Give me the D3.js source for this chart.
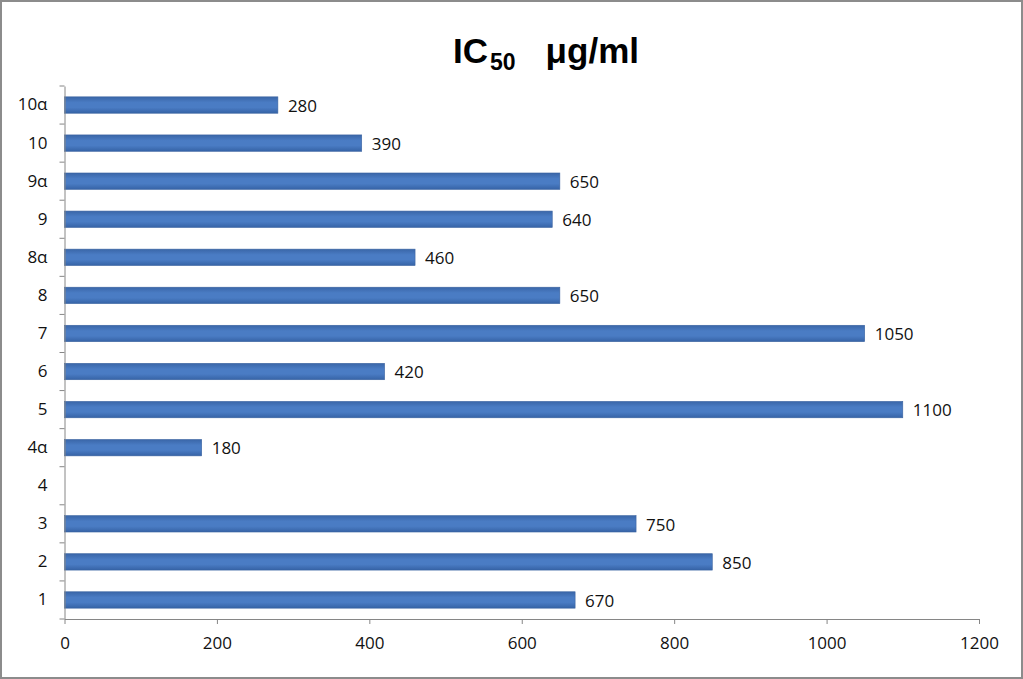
<!DOCTYPE html>
<html><head><meta charset="utf-8">
<script src="https://cdn.jsdelivr.net/npm/d3@7"></script>
<style>body{margin:0;background:#fff}svg{display:block}</style>
</head><body>
<svg id="c" width="1023" height="679"></svg>
<script>
const categories = ["1","2","3","4","4α","5","6","7","8","8α","9","9α","10","10α"];
const values = [670,850,750,null,180,1100,420,1050,650,460,640,650,390,280];
const xTicks = [0,200,400,600,800,1000,1200];

const svg = d3.select("#c");
svg.append("rect").attr("x",1).attr("y",1).attr("width",1021).attr("height",677)
  .attr("fill","#fff").attr("stroke","#8c8c8c").attr("stroke-width",2);

const defs = svg.append("defs");
const g = defs.append("linearGradient").attr("id","bg").attr("x1",0).attr("y1",0).attr("x2",0).attr("y2",1);
g.append("stop").attr("offset","0%").attr("stop-color","#3a66a8");
g.append("stop").attr("offset","35%").attr("stop-color","#4a7cc4");
g.append("stop").attr("offset","65%").attr("stop-color","#4a7cc4");
g.append("stop").attr("offset","100%").attr("stop-color","#3663a6");

const L=64.5, R=979, T=86, B=619;
const x = d3.scaleLinear().domain([0,1200]).range([L,R]);
const y = d3.scaleBand().domain(categories.slice().reverse()).range([T,B]).paddingInner(0.57).paddingOuter(0.285);

// title
const t = svg.append("text").attr("x",546).attr("y",63).attr("text-anchor","middle")
  .attr("font-family","Liberation Sans, Arial, sans-serif").attr("font-weight","bold").attr("font-size",35).attr("fill","#000");
t.append("tspan").text("IC");
t.append("tspan").attr("font-size",23).attr("dy",7).attr("dx",2).text("50");
t.append("tspan").attr("dy",-7).attr("dx",30).text("μg/ml");

const fnt = "Open Sans, Lato, sans-serif";
// bars
const data = categories.map((c,i)=>({c, v: values[i]})).filter(d=>d.v!=null);
svg.append("g").selectAll("rect").data(data).join("rect")
  .attr("x",x(0)).attr("y",d=>y(d.c)).attr("width",d=>x(d.v)-x(0)).attr("height",y.bandwidth())
  .attr("fill","url(#bg)").attr("stroke","#3a63a0").attr("stroke-width",0.6);

svg.append("g").selectAll("text").data(data).join("text")
  .attr("x",d=>x(d.v)+10).attr("y",d=>y(d.c)+y.bandwidth()/2).attr("dy","0.4em")
  .attr("font-family",fnt).attr("font-size",17).attr("fill","#111")
  .text(d=>d.v);

// x axis
const xa = svg.append("g").attr("transform",`translate(0,${B})`)
  .call(d3.axisBottom(x).tickValues(xTicks).tickFormat(d3.format("d")).tickSize(5).tickSizeOuter(0).tickPadding(13));
xa.select(".domain").attr("stroke","#868686");
xa.selectAll(".tick line").attr("stroke","#868686");
xa.selectAll("text").attr("font-family",fnt).attr("font-size",17).attr("fill","#111");

// y axis
const ya = svg.append("g").attr("transform",`translate(${L},0)`)
  .call(d3.axisLeft(y).tickSize(0).tickPadding(17));
ya.select(".domain").attr("stroke","#868686");
ya.selectAll("text").attr("font-family",fnt).attr("font-size",17).attr("fill","#111");
// boundary ticks between categories
const bounds = d3.range(categories.length+1).map(i=>T+i*(B-T)/categories.length);
svg.append("g").selectAll("line").data(bounds).join("line")
  .attr("x1",L-5).attr("x2",L).attr("y1",d=>d).attr("y2",d=>d).attr("stroke","#868686");
</script>
</body></html>
